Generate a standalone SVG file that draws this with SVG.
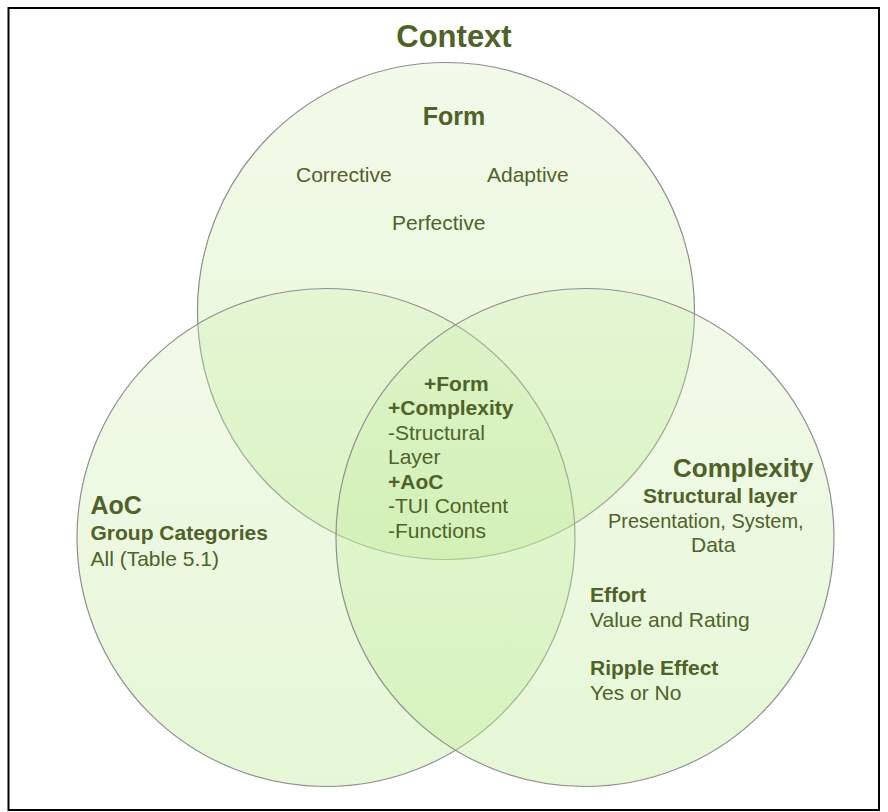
<svg xmlns="http://www.w3.org/2000/svg" width="888" height="812" viewBox="0 0 888 812">
  <defs>
    <!-- soft green fill, slightly deeper towards the bottom of each circle -->
    <linearGradient id="venFill" x1="0" y1="0" x2="0" y2="1">
      <stop offset="0" stop-color="rgb(205,236,172)" stop-opacity="0.26"/>
      <stop offset="1" stop-color="rgb(190,236,150)" stop-opacity="0.40"/>
    </linearGradient>
    <style>
      .set { fill: url(#venFill); stroke: #8f8f8f; stroke-width: 1.2; }
      .t { font-family: "Liberation Sans", Arial, sans-serif; fill: #4f6228; font-size: 21px; }
      .b { font-weight: bold; }
      .h { font-weight: bold; font-size: 25px; }
    </style>
  </defs>

  <rect x="0" y="0" width="888" height="812" fill="#ffffff"/>
  <!-- page frame -->
  <rect x="8.5" y="8" width="870.5" height="802" fill="none" stroke="#000000" stroke-width="2"/>

  <text class="t" x="454" y="47" text-anchor="middle" style="font-weight:bold;font-size:31px">Context</text>

  <!-- the three sets -->
  <g id="set-form"><circle class="set" cx="446" cy="311" r="248.5"/></g>
  <g id="set-aoc"><circle class="set" cx="326" cy="537.5" r="249"/></g>
  <g id="set-complexity"><circle class="set" cx="585" cy="537.5" r="249"/></g>

  <!-- set labels -->
  <g id="label-form">
    <text class="t h" x="454" y="125" text-anchor="middle">Form</text>
    <text class="t" x="296" y="182">Corrective</text>
    <text class="t" x="487" y="182">Adaptive</text>
    <text class="t" x="392" y="230">Perfective</text>
  </g>

  <g id="label-aoc">
    <text class="t h" x="90.5" y="514">AoC</text>
    <text class="t b" x="90.5" y="540">Group Categories</text>
    <text class="t" x="90.5" y="566">All (Table 5.1)</text>
  </g>

  <g id="label-complexity">
    <text class="t" x="673" y="477" style="font-weight:bold;font-size:26px">Complexity</text>
    <text class="t b" x="643" y="503">Structural layer</text>
    <text class="t" x="608" y="528" style="font-size:20px">Presentation, System,</text>
    <text class="t" x="691" y="552">Data</text>
    <text class="t b" x="590" y="602">Effort</text>
    <text class="t" x="590" y="627">Value and Rating</text>
    <text class="t b" x="590" y="675">Ripple Effect</text>
    <text class="t" x="590" y="700">Yes or No</text>
  </g>

  <!-- intersection of all three sets -->
  <g id="label-center">
    <text class="t b" x="424" y="390.5">+Form</text>
    <text class="t b" x="388" y="415">+Complexity</text>
    <text class="t" x="388" y="439.5">-Structural</text>
    <text class="t" x="388" y="464">Layer</text>
    <text class="t b" x="388" y="488.5">+AoC</text>
    <text class="t" x="388" y="513">-TUI Content</text>
    <text class="t" x="388" y="537.5">-Functions</text>
  </g>
</svg>
